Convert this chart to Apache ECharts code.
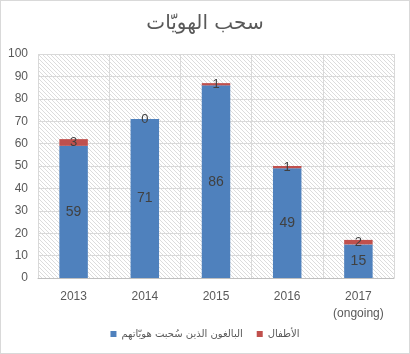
<!DOCTYPE html>
<html><head><meta charset="utf-8">
<script src="https://cdn.jsdelivr.net/npm/echarts@6/dist/echarts.min.js"></script>
<style>html,body{margin:0;padding:0;background:#fff}#c{width:408px;height:352px;border:1px solid #d9d9d9}</style>
</head><body><div id="c"></div>
<script>
const categories = ['2013', '2014', '2015', '2016', '2017\n(ongoing)'];
const adults = [59, 71, 86, 49, 15];
const children = [3, 0, 1, 1, 2];
const seriesNames = ['البالغون الذين سُحبت هويّاتهم', 'الأطفال'];
const titleText = 'سحب الهويّات';
const yTicks = {min: 0, max: 100, interval: 10};

const pc = document.createElement('canvas');
pc.width = 4; pc.height = 4;
const g = pc.getContext('2d');
g.fillStyle = '#fff'; g.fillRect(0, 0, 4, 4);
g.strokeStyle = '#dcdcdc'; g.lineWidth = 1;
g.beginPath(); g.moveTo(-1, -1); g.lineTo(5, 5); g.moveTo(-1, 3); g.lineTo(1, 5); g.moveTo(3, -1); g.lineTo(5, 1); g.stroke();

const font = 'Liberation Sans, DejaVu Sans, sans-serif';
const chart = echarts.init(document.getElementById('c'));
chart.setOption({
  animation: false,
  textStyle: {fontFamily: font},
  title: {text: titleText, left: 'center', top: 8, textStyle: {fontFamily: 'DejaVu Sans', fontSize: 20, fontWeight: 'normal', color: '#595959'}},
  grid: {left: 37, right: 15, top: 53, bottom: 75, show: true, borderWidth: 0, backgroundColor: {image: pc, repeat: 'repeat'}},
  legend: {bottom: 9, left: 'center', itemWidth: 6, itemHeight: 6, itemGap: 14, icon: 'rect',
    textStyle: {fontFamily: 'DejaVu Sans', fontSize: 10, color: '#595959'}, data: seriesNames},
  xAxis: {type: 'category', data: categories,
    axisLine: {lineStyle: {color: '#bfbfbf'}}, axisTick: {show: false},
    splitLine: {show: true, lineStyle: {color: '#d9d9d9'}},
    axisLabel: {color: '#595959', fontSize: 12, margin: 10, lineHeight: 17}},
  yAxis: {type: 'value', min: yTicks.min, max: yTicks.max, interval: yTicks.interval,
    axisLine: {show: false}, axisTick: {show: false},
    splitLine: {lineStyle: {color: '#d9d9d9'}},
    axisLabel: {color: '#595959', fontSize: 12, margin: 10}},
  series: [
    {name: seriesNames[0], type: 'bar', stack: 's', data: adults, barWidth: '40%',
     itemStyle: {color: '#4f81bd'},
     label: {show: true, position: 'inside', color: '#404040', fontSize: 14}},
    {name: seriesNames[1], type: 'bar', stack: 's', data: children, barWidth: '40%',
     itemStyle: {color: '#c0504d'},
     label: {show: true, position: 'inside', color: '#404040', fontSize: 13}}
  ]
});
</script></body></html>
